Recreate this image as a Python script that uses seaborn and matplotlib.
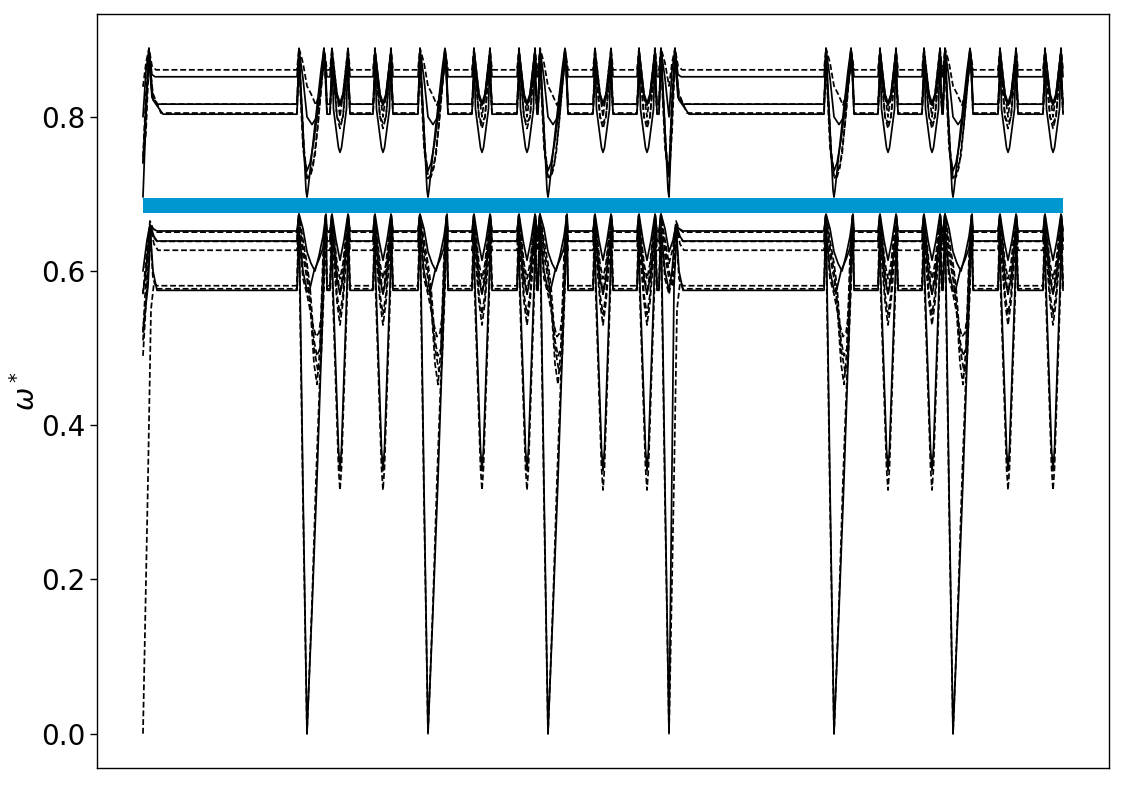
import matplotlib
matplotlib.use("Agg")
import matplotlib.pyplot as plt
import seaborn as sns
import pandas as pd

# ---------------- data ----------------
# k-path coordinate (distance along the path), high-symmetry points
gamma_pts = [0, 164, 285, 405, 526, 691, 810]
long_start_gammas = [0, 526]                 # Gamma followed by a long flat segment
short_start_gammas = [164, 285, 405, 691, 810]
v_pts = [197, 240, 339, 384, 460, 504, 745, 789, 865, 910]
path_end = 920

# band gap (highlighted)
gap_lo, gap_hi = 0.675, 0.695

band_names = ["U5", "U4", "U3", "U2", "U1", "DU1",
              "L5", "DL5", "L4", "DL4", "L3", "L2", "L1", "DL1"]
band_dashed = [True, False, True, False, False, True,
               False, True, False, True, True, True, False, True]
flat_levels = [0.861, 0.852, 0.8165, 0.8165, 0.8035, 0.805,
               0.652, 0.6505, 0.639, 0.6385, 0.627, 0.581, 0.575, 0.577]
start_values = [0.839, 0.80, 0.748, 0.74, 0.696, 0.74,
                0.60, 0.57, 0.524, 0.51, 0.49, 0.0, 0.572, 0.52]
gamma_values = [0.84, 0.80, 0.722, 0.73, 0.696, 0.72,
                0.625, 0.61, 0.0, 0.59, 0.60, 0.0, 0.575, 0.57]

# shape around the folding points (offsets along k, values)
v_dx = [[-10, -8, -4, 0, 4, 8, 10],
        [-10, -8, -3, 0, 3, 8, 10],
        [-10, -7.5, -3, 0, 3, 7.5, 10],
        [-10, -7, -3, 0, 3, 7, 10],
        [-10, -8.5, -8, -6.5, -1.5, 0, 1.5, 6.5, 8, 8.5, 10],
        [-10, -7, -3, 0, 3, 7, 10],
        [-10, -8, -4, 0, 4, 8, 10],
        [-10, -8, -3, 0, 3, 8, 10],
        [-10, -8.5, -7.5, -1.5, 0, 1.5, 7.5, 8.5, 10],
        [-10, -8, -3, 0, 3, 8, 10],
        [-10, -8, -3, 0, 3, 8, 10],
        [-10, -8.5, -7.5, -1.5, 0, 1.5, 7.5, 8.5, 10],
        [-10, -8, -3, 0, 3, 8, 10],
        [-10, -8, -3, 0, 3, 8, 10]]
v_y = [[0.861, 0.889, 0.84, 0.80, 0.84, 0.889, 0.861],
       [0.852, 0.887, 0.83, 0.818, 0.83, 0.887, 0.852],
       [0.8165, 0.875, 0.80, 0.792, 0.80, 0.875, 0.8165],
       [0.8165, 0.86, 0.825, 0.815, 0.825, 0.86, 0.8165],
       [0.8035, 0.86, 0.889, 0.81, 0.76, 0.754, 0.76, 0.81, 0.889, 0.86, 0.8035],
       [0.805, 0.86, 0.80, 0.785, 0.80, 0.86, 0.805],
       [0.652, 0.674, 0.64, 0.614, 0.64, 0.674, 0.652],
       [0.6505, 0.672, 0.61, 0.59, 0.61, 0.672, 0.6505],
       [0.639, 0.672, 0.60, 0.37, 0.341, 0.37, 0.60, 0.672, 0.639],
       [0.6385, 0.67, 0.60, 0.57, 0.60, 0.67, 0.6385],
       [0.627, 0.668, 0.57, 0.544, 0.57, 0.668, 0.627],
       [0.581, 0.66, 0.58, 0.345, 0.316, 0.345, 0.58, 0.66, 0.581],
       [0.575, 0.65, 0.59, 0.57, 0.59, 0.65, 0.575],
       [0.577, 0.64, 0.56, 0.53, 0.56, 0.64, 0.577]]

# approach to a Gamma point from the left
gl_dx = [[-10, -8, -4], [-10, -8, -4], [-10, -8, -3], [-10, -8, -3],
         [-10, -8.5, -8, -1], [-10, -8, -4],
         [-10, -8, -4], [-10, -8, -4], [-10, -8.5, -7.5, -4], [-10, -8, -4],
         [-10, -8, -4], [-10, -8.5, -7.5, -4], [-10, -8, -4], [-10, -8, -4]]
gl_y = [[0.861, 0.889, 0.87], [0.852, 0.887, 0.85], [0.8165, 0.88, 0.76],
        [0.8165, 0.875, 0.75], [0.8035, 0.86, 0.889, 0.705], [0.805, 0.87, 0.76],
        [0.652, 0.674, 0.655], [0.6505, 0.674, 0.64], [0.639, 0.672, 0.63, 0.32],
        [0.6385, 0.672, 0.62], [0.627, 0.668, 0.63], [0.581, 0.66, 0.60, 0.30],
        [0.575, 0.655, 0.60], [0.577, 0.65, 0.59]]

# leaving a Gamma point into a short segment
gr_dx = [[4, 9, 14, 17, 20], [5, 10, 14, 17, 20], [3, 6, 11, 15, 17.5, 20],
         [3, 7, 12, 16, 18, 20], [1, 8, 14, 17, 18.5, 20], [3, 8, 13, 16, 18, 20],
         [4, 8, 12, 16, 19, 20], [3, 7, 10, 13, 16, 18.5, 20],
         [5, 10, 15, 18.5, 20], [3, 7, 11, 14, 17, 19, 20],
         [3, 7, 10, 13, 16, 18.5, 20], [5, 9, 14, 18, 20],
         [2, 7, 12, 16, 19, 20], [3, 6, 9, 12, 16, 19, 20]]
gr_y = [[0.83, 0.815, 0.84, 0.889, 0.861],
        [0.79, 0.80, 0.85, 0.887, 0.852],
        [0.722, 0.735, 0.79, 0.85, 0.875, 0.8165],
        [0.74, 0.77, 0.82, 0.86, 0.88, 0.8165],
        [0.705, 0.79, 0.86, 0.889, 0.85, 0.8035],
        [0.725, 0.75, 0.82, 0.865, 0.87, 0.805],
        [0.61, 0.60, 0.62, 0.645, 0.674, 0.652],
        [0.58, 0.51, 0.49, 0.50, 0.60, 0.672, 0.6505],
        [0.16, 0.33, 0.52, 0.672, 0.639],
        [0.56, 0.50, 0.47, 0.48, 0.58, 0.665, 0.6385],
        [0.56, 0.48, 0.453, 0.50, 0.62, 0.668, 0.627],
        [0.17, 0.33, 0.50, 0.66, 0.581],
        [0.572, 0.60, 0.615, 0.63, 0.665, 0.575],
        [0.55, 0.53, 0.515, 0.52, 0.56, 0.655, 0.577]]

# leaving a Gamma point into a long flat segment
lr_dx = [[3, 6, 9, 13], [3, 6, 9, 12], [3, 6, 9, 14], [3, 6, 9, 14],
         [3, 6, 10, 20], [3, 6, 10, 18],
         [4, 7, 10, 14], [4, 7, 10, 14], [5, 8, 11, 14], [4, 7, 10, 14],
         [4, 8, 11, 15], [5, 8, 11, 14], [3, 7, 10, 14], [3, 7, 10, 14]]
lr_y = [[0.87, 0.889, 0.866, 0.861],
        [0.86, 0.887, 0.855, 0.852],
        [0.83, 0.88, 0.83, 0.8165],
        [0.82, 0.875, 0.825, 0.8165],
        [0.80, 0.889, 0.822, 0.8035],
        [0.78, 0.875, 0.83, 0.805],
        [0.64, 0.66, 0.655, 0.652],
        [0.63, 0.665, 0.655, 0.6505],
        [0.58, 0.657, 0.645, 0.639],
        [0.58, 0.655, 0.645, 0.6385],
        [0.58, 0.655, 0.635, 0.627],
        [0.33, 0.55, 0.585, 0.581],
        [0.60, 0.66, 0.60, 0.575],
        [0.59, 0.655, 0.59, 0.577]]

y_ticks = [0.0, 0.2, 0.4, 0.6, 0.8]
y_label = r"$\omega^*$"


# ---------------- assemble each band along the path ----------------
def band_points(i):
    pts = {0.0: start_values[i]}
    for g in gamma_pts[1:]:
        for dx, y in zip(gl_dx[i], gl_y[i]):
            pts[g + dx] = y
        pts[g] = gamma_values[i]
    for g in short_start_gammas:
        for dx, y in zip(gr_dx[i], gr_y[i]):
            pts[g + dx] = y
    for g in long_start_gammas:
        for dx, y in zip(lr_dx[i], lr_y[i]):
            pts[g + dx] = y
    for v in v_pts:
        for dx, y in zip(v_dx[i], v_y[i]):
            if v + dx <= path_end:
                pts[v + dx] = y
    pts[path_end] = flat_levels[i]
    xs = sorted(pts)
    return pd.DataFrame({"k": xs, "omega": [pts[x] for x in xs],
                         "band": band_names[i]})


frames = [band_points(i) for i in range(len(band_names))]

# ---------------- plot ----------------
sns.set_style("ticks", {"axes.edgecolor": "black", "xtick.color": "black",
                        "ytick.color": "black", "text.color": "black",
                        "axes.labelcolor": "black"})
plt.rcParams["font.family"] = ["DejaVu Sans"]

fig = plt.figure(figsize=(11.25, 7.85), dpi=100)
ax = fig.add_axes([0.0862, 0.0217, 0.8996, 0.9605])

order = [i for i in range(len(band_names)) if not band_dashed[i]] + \
        [i for i in range(len(band_names)) if band_dashed[i]]
for i in order:
    ls = (0, (3.4, 1.6)) if band_dashed[i] else "-"
    sns.lineplot(data=frames[i], x="k", y="omega", ax=ax, estimator=None,
                 sort=False, color="black", linewidth=1.25, linestyle=ls)

ax.fill_between([0, path_end], gap_lo, gap_hi, color="#0097D0",
                linewidth=0, zorder=5)

ax.set_xticks([])
ax.set_xlabel("")
ax.set_yticks(y_ticks)
ax.tick_params(axis="y", labelsize=20, length=5, width=1)
ax.set_ylabel(y_label, fontsize=20, labelpad=0)
for s in ax.spines.values():
    s.set_linewidth(1.0)
    s.set_visible(True)

fig.savefig("out.png", dpi=100)
